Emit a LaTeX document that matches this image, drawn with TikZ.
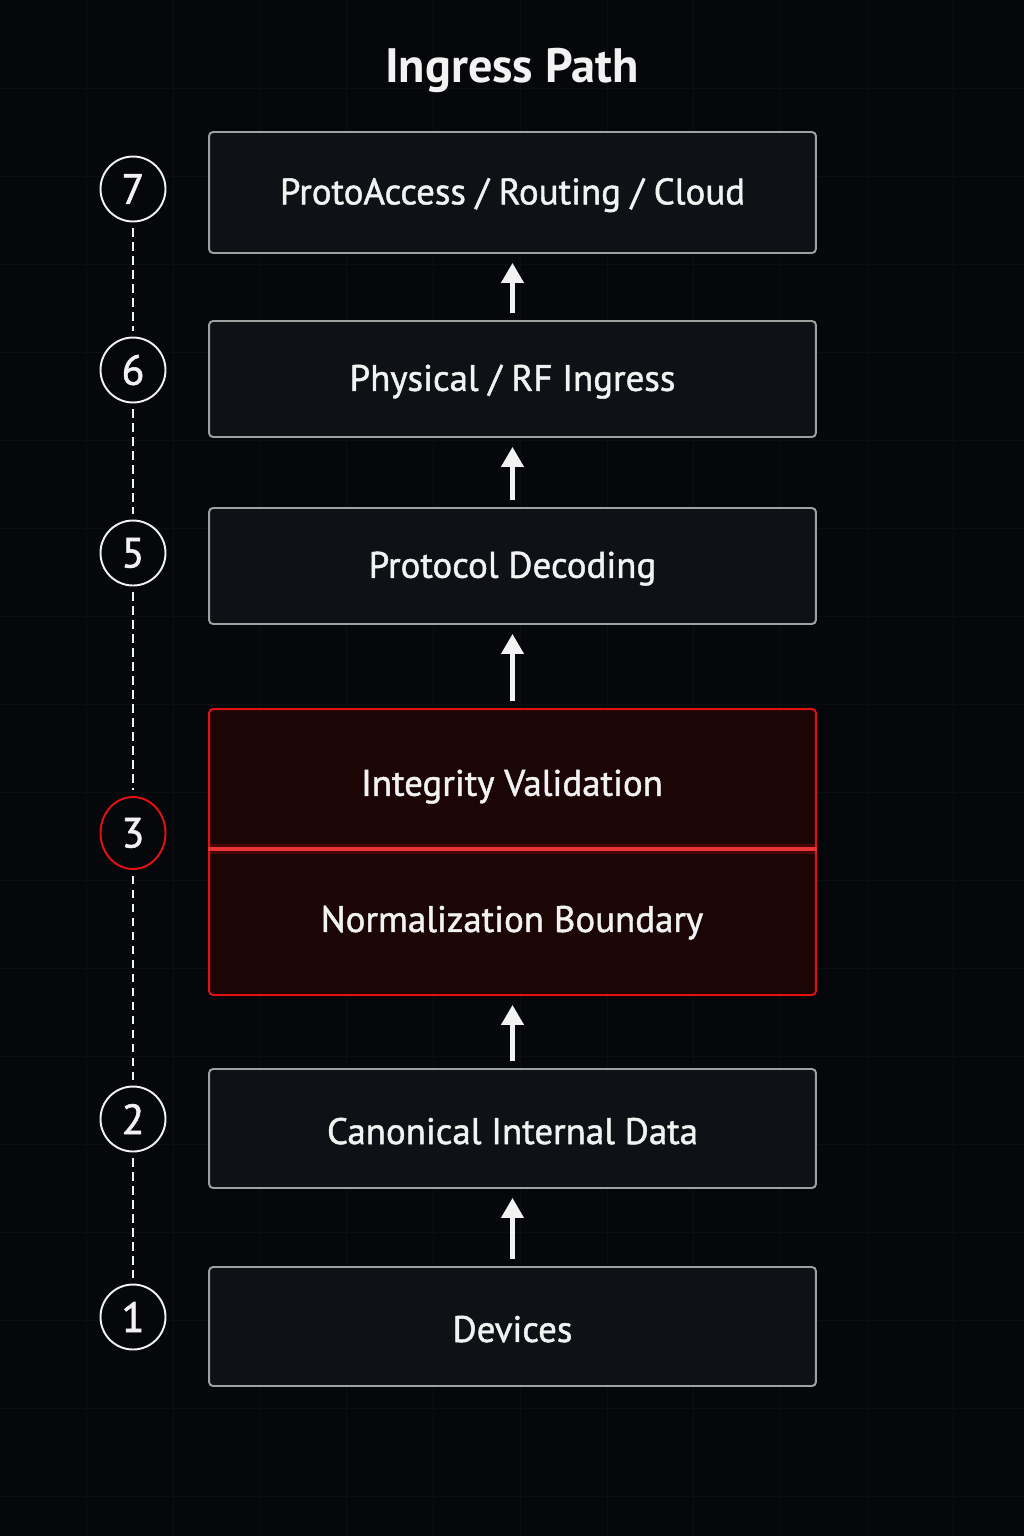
\documentclass[tikz,border=0pt]{standalone}
\usepackage{fontspec}
\setmainfont{PT Sans}
\newfontfamily\medfont[FakeBold=1.3]{PT Sans}
\usetikzlibrary{arrows.meta,shapes.geometric}
\definecolor{bg}{HTML}{05070A}
\definecolor{gridc}{HTML}{0B0F14}
\definecolor{boxfill}{HTML}{0E1115}
\definecolor{boxline}{HTML}{A0A0A0}
\definecolor{redfill}{HTML}{1C0505}
\definecolor{redline}{HTML}{E3110F}
\definecolor{txt}{HTML}{F2F2F2}
\tikzset{
  layerbox/.style={draw=boxline, fill=boxfill, line width=1.1pt, rounded corners=0.08cm,
    minimum width=12.14cm, minimum height=2.36cm, inner sep=0pt},
  boxtext/.style={text=txt, font=\medfont\fontsize{21}{24}\selectfont, yshift=-1.5pt},
  numcirc/.style={circle, draw=txt, line width=1.1pt, fill=bg, minimum size=1.3cm, inner sep=0pt,
    text=txt, font=\medfont\fontsize{24}{28}\selectfont},
  uparrow/.style={draw=txt, line width=2.4pt, -{Triangle[width=0.44cm,length=0.4cm]},
    shorten <=0.14cm, shorten >=0.18cm},
  dashlink/.style={draw=txt, line width=1.2pt, dash pattern=on 0.17cm off 0.11cm,
    shorten <=0.12cm, shorten >=0.12cm}
}
\begin{document}
\begin{tikzpicture}[x=0.02cm,y=-0.02cm]
\useasboundingbox (0,0) rectangle (1024,1536);
\fill[bg] (0,0) rectangle (1024,1536);
% faint grid
\foreach \gx in {1,...,11} \draw[gridc, line width=0.4pt] (\gx*86.7,0) -- (\gx*86.7,1536);
\foreach \gy in {1,...,17} \draw[gridc, line width=0.4pt] (0,\gy*88) -- (1024,\gy*88);

\node[text=txt, font=\fontsize{27.5}{32}\selectfont\bfseries] (title) at (512,70) {Ingress Path};

% boxes
\node[layerbox, minimum height=2.42cm] (b7) at (512.5,192.5) {};
\node[boxtext] (t7) at (b7.center) {ProtoAccess / Routing / Cloud};
\node[layerbox, minimum height=2.32cm] (b6) at (512.5,379) {};
\node[boxtext] (t6) at (b6.center) {Physical / RF Ingress};
\node[layerbox, minimum height=2.32cm] (b5) at (512.5,566) {};
\node[boxtext] (t5) at (b5.center) {Protocol Decoding};

\node[draw=redline, fill=redfill, line width=1.1pt, rounded corners=0.08cm,
  minimum width=12.14cm, minimum height=5.72cm, inner sep=0pt] (red) at (512.5,852) {};
\coordinate (div) at (512.5,849);
\draw[redline, line width=6pt, opacity=0.22] (red.west |- div) -- (red.east |- div);
\draw[redline!85!white, line width=2pt] (red.west |- div) -- (red.east |- div);
\node[boxtext] (t4) at (512,784) {Integrity Validation};
\node[boxtext] (t3) at (512,920) {Normalization Boundary};

\node[layerbox, minimum height=2.38cm] (b2) at (512.5,1128.5) {};
\node[boxtext] (t2) at (b2.center) {Canonical Internal Data};
\node[layerbox, minimum height=2.38cm] (b1) at (512.5,1326.5) {};
\node[boxtext] (t1) at (b1.center) {Devices};

% arrows
\draw[uparrow] (b1.north) -- (b2.south);
\draw[uparrow] (b2.north) -- (red.south);
\draw[uparrow] (red.north) -- (b5.south);
\draw[uparrow] (b5.north) -- (b6.south);
\draw[uparrow] (b6.north) -- (b7.south);

% number circles
\node[numcirc] (c7) at (133,189) {7};
\node[numcirc] (c6) at (133,370) {6};
\node[numcirc] (c5) at (133,553) {5};
\node[ellipse, draw=redline, line width=1.1pt, fill=bg, minimum width=1.3cm, minimum height=1.44cm,
  inner sep=0pt, text=txt, font=\medfont\fontsize{24}{28}\selectfont] (c3) at (133,833) {3};
\node[numcirc] (c2) at (133,1119) {2};
\node[numcirc] (c1) at (133,1317) {1};

\draw[dashlink] (c7) -- (c6);
\draw[dashlink] (c6) -- (c5);
\draw[dashlink] (c5) -- (c3);
\draw[dashlink] (c3) -- (c2);
\draw[dashlink] (c2) -- (c1);
\end{tikzpicture}
\end{document}
